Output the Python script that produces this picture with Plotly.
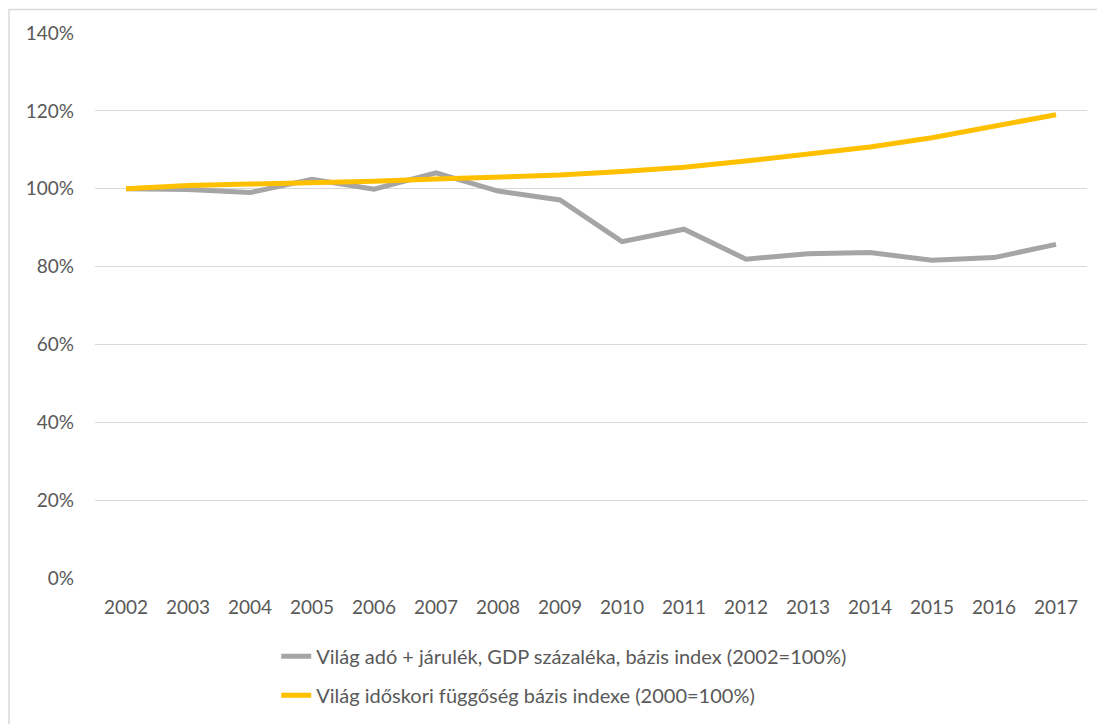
import plotly.graph_objects as go

years = [str(y) for y in range(2002, 2018)]
tax_index = [100, 99.8, 99.0, 102.4, 99.9, 104.1, 99.4, 97.1, 86.4, 89.6, 81.9, 83.3, 83.6, 81.6, 82.3, 85.7]
age_dep_index = [100, 100.8, 101.2, 101.5, 101.9, 102.5, 103.0, 103.5, 104.4, 105.5, 107.1, 108.8, 110.7, 113.1, 116.1, 119.0]

name_tax = "Világ adó + járulék, GDP százaléka, bázis index (2002=100%)"
name_age = "Világ időskori függőség bázis indexe (2000=100%)"
y_ticks = [0, 20, 40, 60, 80, 100, 120, 140]

txt = "#595959"
font_family = "Lato, 'Open Sans', sans-serif"

fig = go.Figure()
fig.add_trace(go.Scatter(
    x=years, y=tax_index, mode="lines", name=name_tax, legendgroup="a",
    line=dict(color="#a5a5a5", width=5)))
fig.add_trace(go.Scatter(
    x=years, y=age_dep_index, mode="lines", name=name_age, legendgroup="b",
    line=dict(color="#ffc000", width=5)))

fig.update_layout(
    width=1105, height=724,
    margin=dict(l=87, r=26, t=25, b=154),
    paper_bgcolor="white", plot_bgcolor="white",
    font=dict(family=font_family, size=19, color=txt),
    showlegend=True,
    legend=dict(orientation="v", x=0.473, xanchor="center", y=-0.108, yanchor="top",
                tracegroupgap=10, font=dict(size=20, color=txt),
                bgcolor="rgba(0,0,0,0)"),
    xaxis=dict(type="category", range=[-0.5, 15.5], showgrid=False, zeroline=False,
               showline=False, ticks="", ticklabelstandoff=16,
               tickfont=dict(size=19, color=txt)),
    yaxis=dict(range=[0, 140], tickvals=y_ticks, ticktext=[f"{v}%" for v in y_ticks],
               showgrid=True, gridcolor="#d9d9d9", gridwidth=1.3, zeroline=False,
               showline=False, ticks="", ticklabelstandoff=20,
               tickfont=dict(size=19, color=txt)),
    shapes=[dict(type="rect", xref="paper", yref="paper",
                 x0=-86/992, x1=1.05, y0=-0.35, y1=1 + 23.5/545,
                 line=dict(color="#d9d9d9", width=1.5), fillcolor="rgba(0,0,0,0)", layer="below")],
)

fig.write_html("out.html")
